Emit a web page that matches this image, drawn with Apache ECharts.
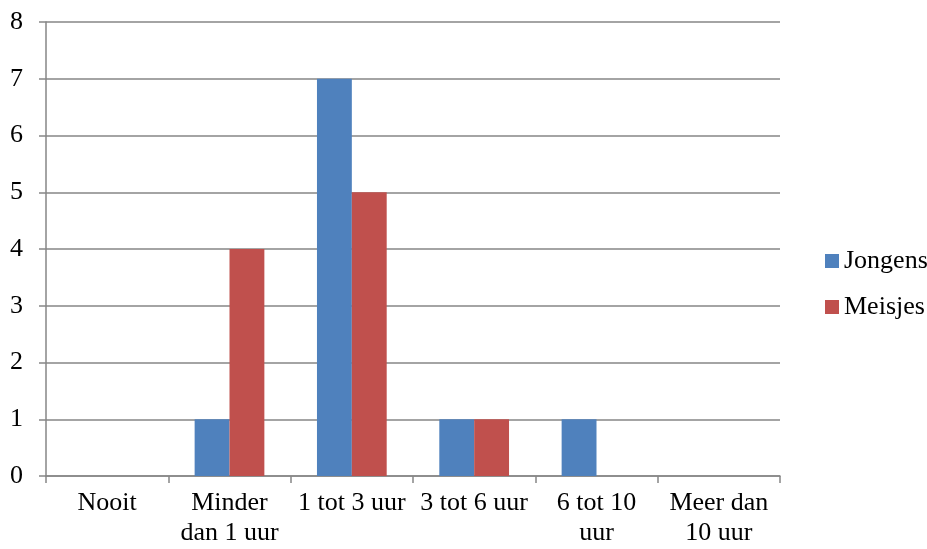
<!DOCTYPE html>
<html>
<head>
<meta charset="utf-8">
<script src="https://cdn.jsdelivr.net/npm/echarts@6/dist/echarts.min.js"></script>
<style>
  html, body { margin: 0; padding: 0; background: #fff; }
  #chart { width: 927px; height: 549px; }
</style>
</head>
<body>
<div id="chart"></div>
<script>
// Hours per week, counts per group
const categories = ['Nooit', 'Minder\ndan 1 uur', '1 tot 3 uur', '3 tot 6 uur', '6 tot 10\nuur', 'Meer dan\n10 uur'];
const jongens = [0, 1, 7, 1, 1, 0];
const meisjes = [0, 4, 5, 1, 0, 0];
const yTicks = [0, 1, 2, 3, 4, 5, 6, 7, 8];

const font = '"Liberation Serif", "Times New Roman", serif';
const chart = echarts.init(document.getElementById('chart'), null, { renderer: 'canvas' });

chart.setOption({
  animation: false,
  backgroundColor: '#ffffff',
  textStyle: { fontFamily: font, color: '#000' },
  grid: { left: 46, right: 147, top: 22, bottom: 73, containLabel: false },
  legend: {
    orient: 'vertical',
    left: 820,
    top: 243,
    itemWidth: 14,
    itemHeight: 14,
    itemGap: 20,
    icon: 'rect',
    textStyle: { fontFamily: font, fontSize: 26, color: '#000', lineHeight: 26 },
    data: ['Jongens', 'Meisjes']
  },
  xAxis: {
    type: 'category',
    data: categories,
    boundaryGap: true,
    axisLine: { lineStyle: { color: '#868686', width: 1.5 } },
    axisTick: { show: true, length: 7, alignWithLabel: false, lineStyle: { color: '#868686', width: 1.5 } },
    axisLabel: {
      interval: 0,
      margin: 12,
      fontFamily: font,
      fontSize: 26,
      lineHeight: 30,
      color: '#000'
    }
  },
  yAxis: {
    type: 'value',
    min: yTicks[0],
    max: yTicks[yTicks.length - 1],
    interval: 1,
    axisLine: { show: true, lineStyle: { color: '#868686', width: 1.5 } },
    axisTick: { show: true, length: 7, lineStyle: { color: '#868686', width: 1.5 } },
    splitLine: { show: true, lineStyle: { color: '#868686', width: 1.5 } },
    axisLabel: {
      margin: 23,
      fontFamily: font,
      fontSize: 26,
      color: '#000',
      formatter: v => (yTicks.includes(v) ? String(v) : '')
    }
  },
  series: [
    {
      name: 'Jongens',
      type: 'bar',
      data: jongens,
      barGap: '0%',
      barCategoryGap: '43%',
      itemStyle: { color: '#4f81bd' }
    },
    {
      name: 'Meisjes',
      type: 'bar',
      data: meisjes,
      barGap: '0%',
      barCategoryGap: '43%',
      itemStyle: { color: '#c0504d' }
    }
  ]
});
</script>
</body>
</html>
